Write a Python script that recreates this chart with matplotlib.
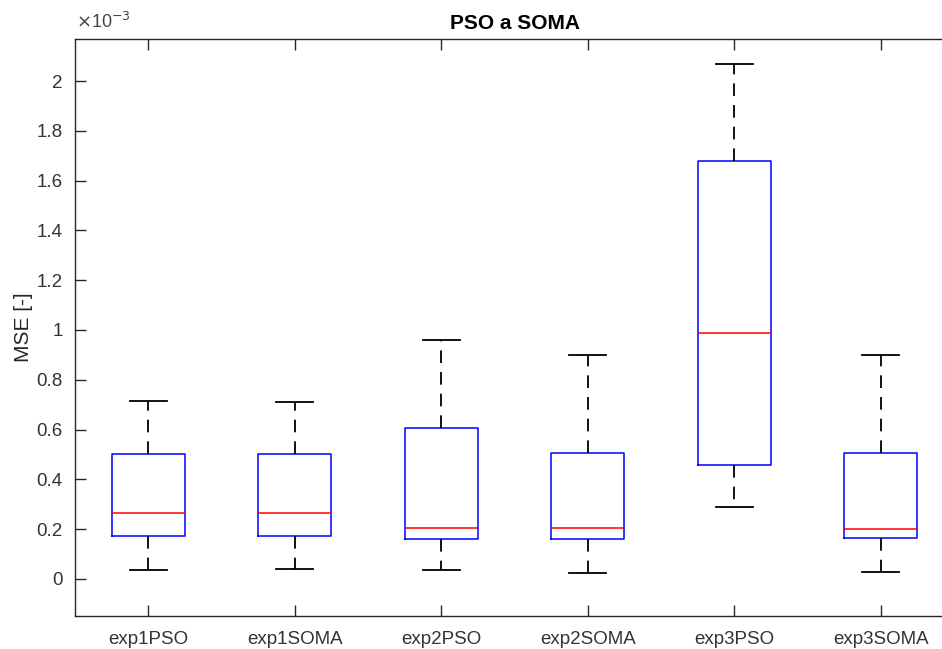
import matplotlib
matplotlib.use("Agg")
import matplotlib.pyplot as plt
from matplotlib.ticker import FuncFormatter, MultipleLocator

plt.rcParams['font.family'] = ['Liberation Sans', 'DejaVu Sans']

# values in units of 1e-3
labels = ['exp1PSO', 'exp1SOMA', 'exp2PSO', 'exp2SOMA', 'exp3PSO', 'exp3SOMA']
whislo = [0.036, 0.040, 0.036, 0.024, 0.289, 0.028]
q1 = [0.173, 0.173, 0.160, 0.160, 0.458, 0.163]
med = [0.265, 0.265, 0.204, 0.204, 0.988, 0.202]
q3 = [0.502, 0.500, 0.606, 0.504, 1.679, 0.506]
whishi = [0.715, 0.712, 0.960, 0.900, 2.068, 0.900]

stats = []
for i in range(len(labels)):
    stats.append(dict(label=labels[i], whislo=whislo[i], q1=q1[i], med=med[i],
                      q3=q3[i], whishi=whishi[i], fliers=[]))

fig = plt.figure(figsize=(9.42, 6.49), dpi=100)
W, H = 942, 649
ax = fig.add_axes([75 / W, (H - 616) / H, (954 - 75) / W, (616 - 39) / H])

ax.bxp(stats, positions=range(1, 7), widths=0.5, showfliers=False,
       boxprops=dict(color='#0000ff', linewidth=1.1),
       medianprops=dict(color='#ff0000', linewidth=1.1),
       whiskerprops=dict(color='#000000', linewidth=1.3, linestyle=(0, (7, 5))),
       capprops=dict(color='#000000', linewidth=1.3),
       capwidths=0.25)

ax.set_xlim(0.5, 6.5)
ax.set_ylim(-0.149, 2.169)
ax.yaxis.set_major_locator(MultipleLocator(0.2))
ax.yaxis.set_major_formatter(FuncFormatter(lambda v, p: '%g' % round(v, 1)))
ax.set_xticks(range(1, 7))
ax.set_xticklabels(labels)

ax.tick_params(direction='in', length=8, width=1, top=True, right=True,
               labelsize=13.5, colors='#262626', labelcolor='#333333')
ax.tick_params(axis='x', pad=11)
ax.tick_params(axis='y', pad=9)
for s in ax.spines.values():
    s.set_color('#262626')
    s.set_linewidth(1)

ax.set_ylabel('MSE [-]', fontsize=15, color='#262626', labelpad=2)
ax.set_title('PSO a SOMA', fontsize=15, fontweight='bold', pad=7)
ax.text(0.001, 1.012, r'$\times$10$^{-3}$', transform=ax.transAxes,
        fontsize=13, color='#444444', ha='left', va='bottom')

fig.savefig('out.png', dpi=100)
